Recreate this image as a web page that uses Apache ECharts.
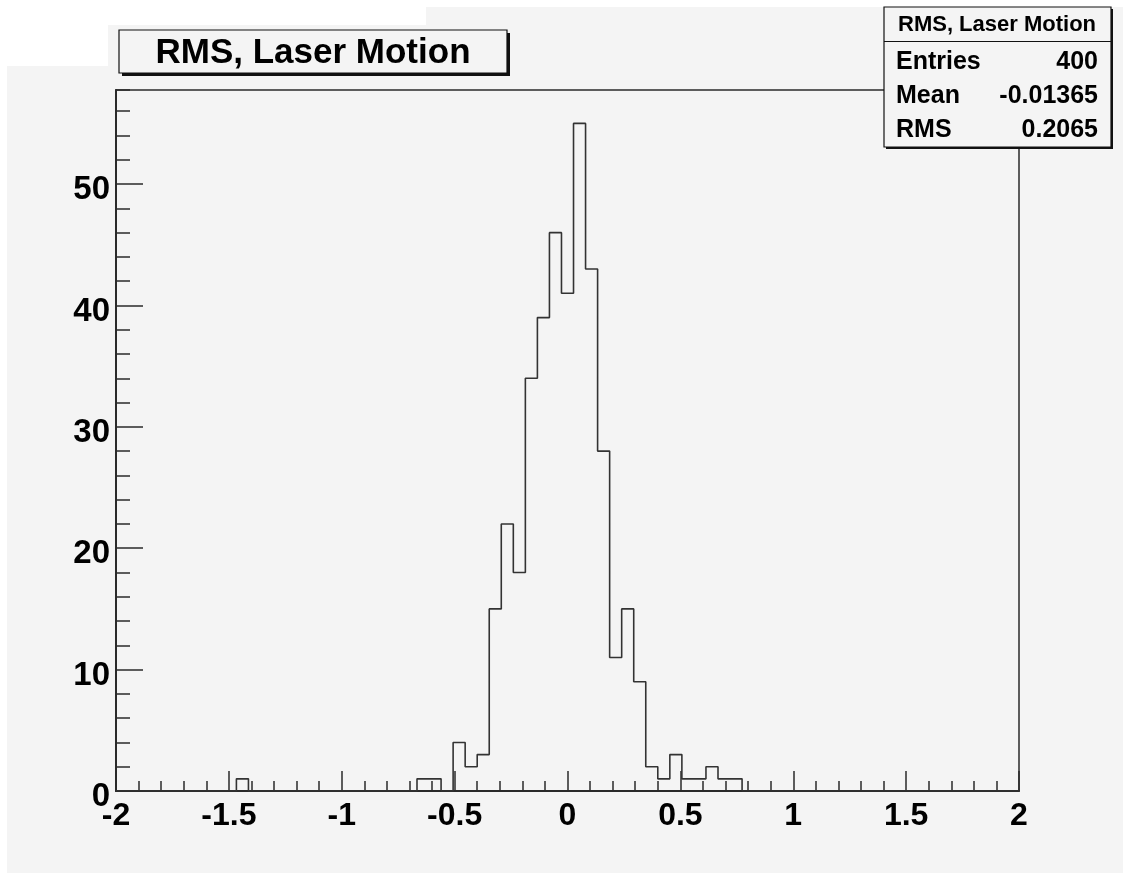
<!DOCTYPE html>
<html>
<head>
<meta charset="utf-8">
<title>RMS, Laser Motion</title>
<script src="https://cdn.jsdelivr.net/npm/echarts@6/dist/echarts.min.js"></script>
<style>
    html, body {margin: 0; padding: 0; background: #fff;}
    #container {width: 1123px; height: 873px;}
</style>
</head>
<body>
<div id="container"></div>
<script>
// histogram: 75 bins from -2 to 2
var xMin = -2;
var xMax = 2;
var nBins = 75;
var counts = [
    0, 0, 0, 0, 0, 0, 0, 0, 0, 0, 1, 0, 0, 0, 0,
    0, 0, 0, 0, 0, 0, 0, 0, 0, 0, 1, 1, 0, 4, 2,
    3, 15, 22, 18, 34, 39, 46, 41, 55, 43, 28, 11, 15, 9, 2,
    1, 3, 1, 1, 2, 1, 1, 0, 0, 0, 0, 0, 0, 0, 0,
    0, 0, 0, 0, 0, 0, 0, 0, 0, 0, 0, 0, 0, 0, 0
];
var yMax = 57.75;

var title = 'RMS, Laser Motion';
var statLabels = ['Entries', 'Mean', 'RMS'];
var statValues = ['400', '-0.01365', '0.2065'];

(function () {
    var font = '"Liberation Sans", Arial, Helvetica, sans-serif';
    var ink = '#2a2a2a';

    // step outline, one point per bin edge
    var w = (xMax - xMin) / nBins;
    var pts = [];
    for (var i = 0; i < nBins; i++) {
        pts.push([xMin + i * w, counts[i]]);
    }
    pts.push([xMax, counts[nBins - 1]]);

    var ec = echarts.init(document.getElementById('container'));

    var statRows = [];
    var rowY = [62, 96, 130];
    for (var j = 0; j < statLabels.length; j++) {
        statRows.push({type: 'text', z: 12, style: {text: statLabels[j], x: 896, y: rowY[j], fill: '#000',
            font: 'bold 25px ' + font, textAlign: 'left', textVerticalAlign: 'middle'}});
        statRows.push({type: 'text', z: 12, style: {text: statValues[j], x: 1098, y: rowY[j], fill: '#000',
            font: 'bold 25px ' + font, textAlign: 'right', textVerticalAlign: 'middle'}});
    }

    var option = {
        animation: false,
        backgroundColor: '#f4f4f4',
        grid: {
            left: 116, right: 104, top: 90, bottom: 82,
            show: true, borderColor: ink, borderWidth: 1.5,
            backgroundColor: 'transparent'
        },
        xAxis: {
            type: 'value', min: xMin, max: xMax, interval: 0.5,
            axisLine: {show: true, onZero: false, lineStyle: {color: ink, width: 2}},
            axisTick: {show: true, inside: true, length: 20, lineStyle: {color: ink, width: 1.5}},
            minorTick: {show: true, splitNumber: 5, length: 10, lineStyle: {color: ink, width: 1.5}},
            splitLine: {show: false},
            axisLabel: {color: '#000', fontFamily: font, fontWeight: 'bold', fontSize: 32, margin: 9}
        },
        yAxis: [
            {
                type: 'value', min: 0, max: yMax, interval: 10, position: 'left',
                axisLine: {show: true, onZero: false, lineStyle: {color: ink, width: 2}},
                axisTick: {show: true, inside: true, length: 27, lineStyle: {color: ink, width: 1.5}},
                splitLine: {show: false},
                axisLabel: {
                    margin: 6, showMaxLabel: false,
                    formatter: function (v) { return '{v|' + v + '}'; },
                    rich: {v: {color: '#000', fontFamily: font, fontWeight: 'bold', fontSize: 33, padding: [12, 0, 0, 0]}}
                }
            },
            {
                type: 'value', min: 0, max: yMax, interval: 2, position: 'left', offset: 0,
                axisLine: {show: false, onZero: false},
                axisTick: {show: true, inside: true, length: 14, lineStyle: {color: ink, width: 1.5}},
                splitLine: {show: false},
                axisLabel: {show: false}
            }
        ],
        series: [
            {
                type: 'line',
                step: 'end',
                data: pts,
                showSymbol: false,
                lineStyle: {color: '#333', width: 1.6},
                z: 3
            }
        ],
        graphic: [
            // white margins of the canvas
            {type: 'rect', z: -10, shape: {x: 0, y: 0, width: 1123, height: 7}, style: {fill: '#fff'}},
            {type: 'rect', z: -10, shape: {x: 0, y: 0, width: 7, height: 873}, style: {fill: '#fff'}},
            {type: 'rect', z: -10, shape: {x: 0, y: 0, width: 426, height: 25}, style: {fill: '#fff'}},
            {type: 'rect', z: -10, shape: {x: 0, y: 0, width: 108, height: 66}, style: {fill: '#fff'}},

            // title box
            {type: 'rect', z: 10, shape: {x: 122, y: 33, width: 388, height: 43}, style: {fill: '#111'}},
            {type: 'rect', z: 11, shape: {x: 119, y: 30, width: 388, height: 43},
                style: {fill: '#f4f4f4', stroke: '#111', lineWidth: 1.2}},
            {type: 'text', z: 12, style: {text: title, x: 313, y: 53, fill: '#000',
                font: 'bold 35px ' + font, textAlign: 'center', textVerticalAlign: 'middle'}},

            // stats box
            {type: 'rect', z: 10, shape: {x: 886, y: 9, width: 227, height: 140}, style: {fill: '#111'}},
            {type: 'rect', z: 11, shape: {x: 884, y: 7, width: 227, height: 140},
                style: {fill: '#f4f4f4', stroke: '#111', lineWidth: 1.2}},
            {type: 'line', z: 12, shape: {x1: 884, y1: 41.5, x2: 1111, y2: 41.5},
                style: {stroke: '#111', lineWidth: 1.2}},
            {type: 'text', z: 12, style: {text: title, x: 997, y: 25, fill: '#000',
                font: 'bold 22px ' + font, textAlign: 'center', textVerticalAlign: 'middle'}}
        ].concat(statRows)
    };

    ec.setOption(option);
})();
</script>
</body>
</html>
